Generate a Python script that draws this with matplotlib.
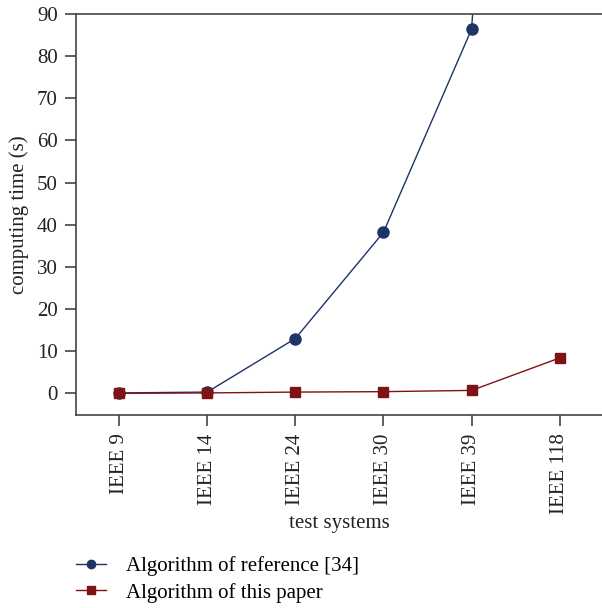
import numpy as np
import matplotlib.pyplot as plt

# --- data ---
systems = ['IEEE 9', 'IEEE 14', 'IEEE 24', 'IEEE 30', 'IEEE 39', 'IEEE 118']
t_ref34 = [0.1, 0.3, 13.0, 38.2, 86.4, 400.0]   # last point far above the axis
t_paper = [0.0, 0.1, 0.3, 0.4, 0.7, 8.4]

plt.rcParams['font.family'] = ['Liberation Serif', 'DejaVu Serif']
plt.rcParams['font.size'] = 15

blue = '#1c3566'
red = '#7d1315'

fig = plt.figure(figsize=(6.02, 6.08), dpi=100)
ax = fig.add_axes([0.126, 0.317, 0.877, 0.66])

x = np.arange(len(systems))
ax.plot(x, t_ref34, '-o', color=blue, lw=1.0, ms=8, label='Algorithm of reference [34]')
ax.plot(x, t_paper, '-s', color=red, lw=1.0, ms=7.5, label='Algorithm of this paper')

ax.set_xlim(-0.49, 5.5)
ax.set_ylim(-5.2, 90)
ax.set_yticks(np.arange(0, 91, 10))
ax.set_xticks(x)
ax.set_xticklabels(systems, rotation=90)

for s in ['left', 'bottom', 'top']:
    ax.spines[s].set_color('#444444')
    ax.spines[s].set_linewidth(1.2)
ax.spines['right'].set_visible(False)
ax.tick_params(direction='out', length=8, width=1.2, pad=5, color='#444444', labelcolor='#222222')

ax.set_ylabel('computing time (s)', color='#222222', labelpad=6)
ax.set_xlabel('test systems', color='#222222', labelpad=0)

fig.legend(loc='lower left', bbox_to_anchor=(0.095, -0.022), frameon=False,
           handlelength=1.45, handletextpad=0.95, labelspacing=0.3, markerscale=0.75)

plt.savefig('out.png', dpi=100)
